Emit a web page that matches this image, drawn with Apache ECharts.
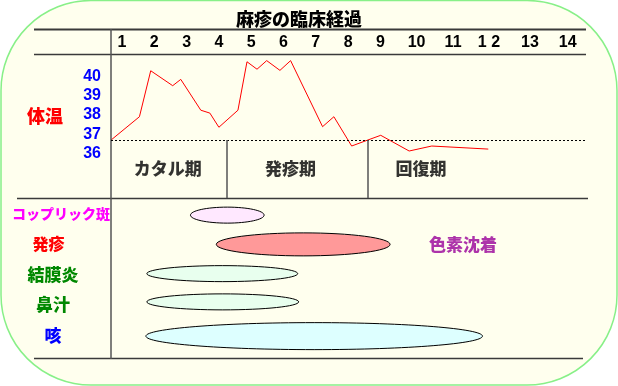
<!DOCTYPE html>
<html>
<head>
<meta charset="utf-8">
<script src="https://cdn.jsdelivr.net/npm/echarts@6/dist/echarts.min.js"></script>
<style>html,body{margin:0;padding:0;background:#fff}#c{width:618px;height:386px}</style>
</head>
<body>
<div id="c"></div>
<script>
// ---- data ----
const title = '麻疹の臨床経過';
const tempAxisName = '体温';
const days = ['1','2','3','4','5','6','7','8','9','10','11','1 2','13','14'];
const dayTickPos = [1,2,3,4,5,6,7,8,9,10.12,11.25,12.36,13.63,14.8];
const tempTicks = [36,37,38,39,40];
const tempDays = [0.66,1.54,1.89,2.57,2.82,3.44,3.72,4.0,4.59,4.87,5.18,5.48,5.89,6.22,7.21,7.56,8.11,8.59,9.01,9.89,10.59,12.34];
const tempValues = [36.69,37.91,40.31,39.53,39.86,38.25,38.10,37.36,38.25,40.78,40.39,40.84,40.33,40.84,37.39,37.91,36.38,36.68,36.94,36.12,36.38,36.22];
const baselineTemp = 36.69;
const phases = ['カタル期','発疹期','回復期'];
const phaseBounds = [4.25, 8.60];
const phaseLabelDay = [2.42, 6.22, 10.26];
const symptoms = ['コップリック斑','発疹','結膜炎','鼻汁','咳'];
const symptomStart = [3.12,3.92,1.77,1.77,1.74];
const symptomEnd = [5.40,9.30,6.44,6.47,12.16];
const afterNote = '色素沈着';
const afterNoteDay = 11.56;
const afterNoteRow = '発疹';

// ---- layout / style ----
const X_MIN = 0.66, X_MAX = 15.365;
const Y_MIN = 33.666, Y_MAX = 41.133;
const phaseLabelLevel = 35.23;
const CJK = '"Noto Sans CJK JP", sans-serif';
const LAT = '"Liberation Sans", Arial, sans-serif';
const W = '900';
const ellipseStyle = [
  {fill:'#FFE8FF', h:16, dy:1},
  {fill:'#FF9999', h:23, dy:0},
  {fill:'#E8FFEE', h:16, dy:-1},
  {fill:'#E8FFEE', h:16, dy:-3},
  {fill:'#DDFFFF', h:27, dy:1}
];
const rowLabelRich = {
  s0:{color:'#FF00FF', fontSize:14, fontWeight:W, fontFamily:CJK, padding:[0,0,0,16]},
  s1:{color:'#FF0000', fontSize:16, fontWeight:W, fontFamily:CJK, padding:[0,9,0,0]},
  s2:{color:'#008800', fontSize:17, fontWeight:W, fontFamily:CJK},
  s3:{color:'#008800', fontSize:17, fontWeight:W, fontFamily:CJK},
  s4:{color:'#0000FF', fontSize:17, fontWeight:W, fontFamily:CJK}
};

const chart = echarts.init(document.getElementById('c'), null, {renderer:'canvas'});
const frame = '#3a3a3a';
function hline(x1,x2,y,w){return {type:'line', z:5, shape:{x1:x1,y1:y,x2:x2,y2:y}, style:{stroke:frame, lineWidth:w}};}

const option = {
  animation:false,
  backgroundColor:'#ffffff',
  title:{text:title, left:231, top:5, textStyle:{fontFamily:CJK, fontSize:18, fontWeight:W, color:'#000'}},
  graphic:[
    {type:'rect', z:-10, shape:{x:1, y:0.5, width:616, height:384.5, r:90}, style:{fill:'#FFFFEE', stroke:'#88F088', lineWidth:1.5}},
    hline(34,586,29.5,2),
    hline(34,586,54.5,1.5),
    hline(17,588,198.5,1.5),
    hline(34,583,358.5,1.5),
    {type:'line', z:5, shape:{x1:111,y1:29,x2:111,y2:359}, style:{stroke:'#555', lineWidth:1.5}},
    {type:'text', z:5, x:45, y:116, style:{text:tempAxisName, fill:'#FF0000', font:W+' 18px '+CJK, textAlign:'center', textVerticalAlign:'middle'}}
  ],
  grid:[
    {left:111, right:32, top:55, bottom:188},
    {left:111, right:32, top:199, height:151.25}
  ],
  xAxis:[
    {gridIndex:0, type:'value', position:'top', min:X_MIN, max:X_MAX,
     axisLine:{show:false}, axisTick:{show:false}, splitLine:{show:false},
     axisLabel:{customValues:dayTickPos, margin:4, color:'#000', fontSize:16, fontWeight:'bold', fontFamily:LAT,
       formatter:function(v){let k=0,d=1e9;dayTickPos.forEach((p,i)=>{if(Math.abs(p-v)<d){d=Math.abs(p-v);k=i;}});return days[k];}}},
    {gridIndex:1, type:'value', min:X_MIN, max:X_MAX, show:false}
  ],
  yAxis:[
    {gridIndex:0, type:'value', min:Y_MIN, max:Y_MAX,
     axisLine:{show:false}, axisTick:{show:false}, splitLine:{show:false},
     axisLabel:{customValues:tempTicks, margin:10, color:'#0000FF', fontSize:16, fontWeight:'bold', fontFamily:LAT}},
    {gridIndex:1, type:'category', data:symptoms, inverse:true,
     axisLine:{show:false}, axisTick:{show:false}, splitLine:{show:false},
     axisLabel:{align:'center', margin:58, formatter:function(v,i){return '{s'+i+'|'+v+'}';}, rich:rowLabelRich}}
  ],
  series:[
    {type:'line', xAxisIndex:0, yAxisIndex:0, data:tempDays.map((d,i)=>[d,tempValues[i]]),
     showSymbol:false, symbol:'none', lineStyle:{color:'#FF0000', width:1}, z:4,
     markLine:{silent:true, symbol:['none','none'], label:{show:false},
       data:[
         {yAxis:baselineTemp, lineStyle:{type:[2,2], color:'#000', width:1}},
         ...phaseBounds.map(b=>[{coord:[b,baselineTemp], lineStyle:{type:'solid', color:'#555', width:1.5}},{coord:[b,Y_MIN]}])
       ]}},
    {type:'scatter', xAxisIndex:0, yAxisIndex:0, symbolSize:0, silent:true,
     data:phases.map((p,i)=>({value:[phaseLabelDay[i], phaseLabelLevel], name:p})),
     label:{show:true, position:'inside', formatter:'{b}', color:'#000', fontSize:17, fontWeight:W, fontFamily:CJK}},
    {type:'custom', xAxisIndex:1, yAxisIndex:1, silent:true,
     data:symptoms.map((s,i)=>[symptomStart[i], symptomEnd[i], i]),
     encode:{x:[0,1], y:2},
     renderItem:function(params, api){
       const i = api.value(2);
       const a = api.coord([api.value(0), i]);
       const b = api.coord([api.value(1), i]);
       const st = ellipseStyle[i];
       return {type:'ellipse', shape:{cx:(a[0]+b[0])/2, cy:a[1]+st.dy, rx:(b[0]-a[0])/2, ry:st.h/2},
               style:{fill:st.fill, stroke:'#000', lineWidth:1}};
     }},
    {type:'scatter', xAxisIndex:1, yAxisIndex:1, symbolSize:0, silent:true,
     data:[{value:[afterNoteDay, afterNoteRow], name:afterNote}],
     label:{show:true, position:'inside', formatter:'{b}', color:'#990099', fontSize:17, fontWeight:W, fontFamily:CJK}}
  ]
};
chart.setOption(option);
</script>
</body>
</html>
